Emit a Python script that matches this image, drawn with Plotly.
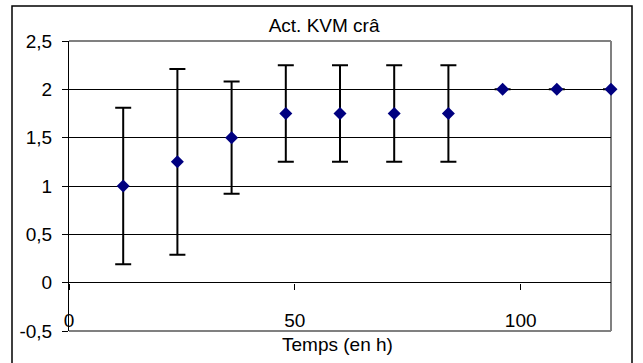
import plotly.graph_objects as go

# Measurements over time
temps_h = [12, 24, 36, 48, 60, 72, 84, 96, 108, 120]
activite = [1.0, 1.25, 1.5, 1.75, 1.75, 1.75, 1.75, 2.0, 2.0, 2.0]
ecart = [0.81, 0.96, 0.58, 0.5, 0.5, 0.5, 0.5, 0.0, 0.0, 0.0]

# Axis ticks
y_ticks = [-0.5, 0, 0.5, 1, 1.5, 2, 2.5]
y_tick_text = ["-0,5", "0", "0,5", "1", "1,5", "2", "2,5"]
x_ticks = [0, 50, 100]
x_tick_text = ["0", "50", "100"]

FONT = "Liberation Sans, Arial, sans-serif"
FS = 19

fig = go.Figure()
fig.add_trace(go.Scatter(
    x=temps_h, y=activite,
    mode="markers",
    marker=dict(symbol="diamond", size=10, color="#000080"),
    error_y=dict(type="data", array=ecart, symmetric=True,
                 color="black", thickness=2, width=8),
    cliponaxis=False,
    showlegend=False,
))

fig.update_layout(
    width=643, height=363,
    margin=dict(l=69, r=32, t=41, b=32),
    paper_bgcolor="white", plot_bgcolor="white",
    font=dict(family=FONT, size=FS, color="black"),
    title=dict(text="Act. KVM crâ", x=0.504, xanchor="center",
               y=1 - 25 / 363, yanchor="middle",
               font=dict(family=FONT, size=FS, color="black")),
    xaxis=dict(range=[0, 120], tickvals=x_ticks, ticktext=x_tick_text,
               showgrid=False, zeroline=False, showline=False,
               ticks="outside", ticklen=6, tickcolor="black",
               anchor="free", position=1 / 6,
               ticklabelstandoff=15),
    yaxis=dict(range=[-0.5, 2.5], tickvals=y_ticks, ticktext=y_tick_text,
               showgrid=True, gridcolor="black", gridwidth=1,
               zeroline=False,
               showline=True, linecolor="black", linewidth=1,
               ticks="outside", ticklen=6, tickcolor="black",
               ticklabelstandoff=6),
    shapes=[
        # plot area frame (top, right, bottom)
        dict(type="line", xref="paper", yref="paper", x0=0, x1=1, y0=1, y1=1,
             line=dict(color="#808080", width=2), layer="below"),
        dict(type="line", xref="paper", yref="paper", x0=1, x1=1, y0=0, y1=1,
             line=dict(color="#808080", width=2), layer="below"),
        dict(type="line", xref="paper", yref="paper", x0=0, x1=1, y0=0, y1=0,
             line=dict(color="#808080", width=2), layer="below"),
        # chart border
        dict(type="rect", xref="paper", yref="paper",
             x0=(12 - 69) / 542, x1=(632 - 69) / 542,
             y0=-0.2, y1=(331 - 6) / 290,
             line=dict(color="black", width=1.5), layer="below"),
    ],
    annotations=[
        dict(text="Temps (en h)", xref="paper", yref="paper",
             x=0.496, y=(331 - 344) / 290, xanchor="center", yanchor="middle",
             showarrow=False, font=dict(family=FONT, size=FS, color="black")),
    ],
)

fig.write_html("out.html")
